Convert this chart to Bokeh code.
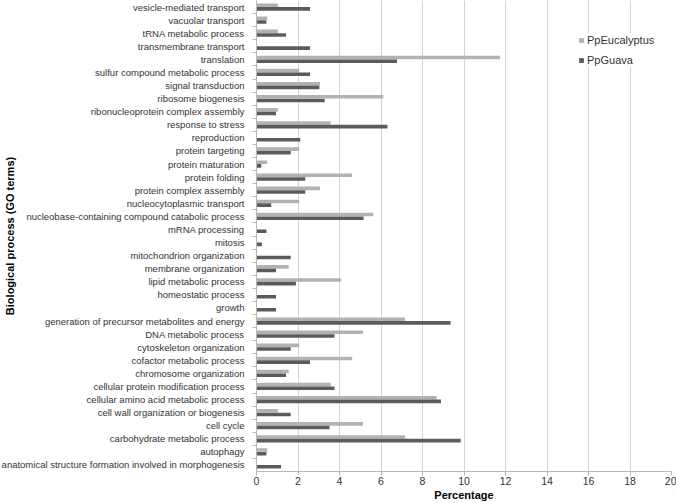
from bokeh.plotting import figure
from bokeh.models import (ColumnDataSource, FactorRange, Range1d, CategoricalAxis,
                          FixedTicker, Legend, LegendItem)
from bokeh.transform import dodge
from bokeh.embed import file_html
from bokeh.resources import INLINE

categories = [
    "anatomical structure formation involved in morphogenesis",
    "autophagy",
    "carbohydrate metabolic process",
    "cell cycle",
    "cell wall organization or biogenesis",
    "cellular amino acid metabolic process",
    "cellular protein modification process",
    "chromosome organization",
    "cofactor metabolic process",
    "cytoskeleton organization",
    "DNA metabolic process",
    "generation of precursor metabolites and energy",
    "growth",
    "homeostatic process",
    "lipid metabolic process",
    "membrane organization",
    "mitochondrion organization",
    "mitosis",
    "mRNA processing",
    "nucleobase-containing compound catabolic process",
    "nucleocytoplasmic transport",
    "protein complex assembly",
    "protein folding",
    "protein maturation",
    "protein targeting",
    "reproduction",
    "response to stress",
    "ribonucleoprotein complex assembly",
    "ribosome biogenesis",
    "signal transduction",
    "sulfur compound metabolic process",
    "translation",
    "transmembrane transport",
    "tRNA metabolic process",
    "vacuolar transport",
    "vesicle-mediated transport",
]

eucalyptus = [0, 0.52, 7.16, 5.13, 1.03, 8.68, 3.58, 1.55, 4.61, 2.06, 5.13, 7.16,
              0, 0, 4.08, 1.55, 0, 0, 0, 5.63, 2.06, 3.06, 4.61, 0.52, 2.06, 0,
              3.58, 1.03, 6.11, 3.06, 2.06, 11.74, 0, 1.03, 0.52, 1.03]
guava = [1.18, 0.48, 9.84, 3.52, 1.65, 8.89, 3.76, 1.42, 2.58, 1.65, 3.76, 9.35,
         0.94, 0.94, 1.90, 0.94, 1.65, 0.26, 0.48, 5.16, 0.71, 2.35, 2.35, 0.23, 1.65, 2.11,
         6.31, 0.94, 3.29, 3.03, 2.58, 6.77, 2.58, 1.42, 0.48, 2.58]

x_ticks = [0, 2, 4, 6, 8, 10, 12, 14, 16, 18, 20]

FONT = "Liberation Sans"
C_EUC = "#b2b2b2"
C_GUA = "#5b5b5b"
AXIS_C = "#b8b8b8"

src = ColumnDataSource(dict(cat=categories, euc=eucalyptus, gua=guava))

p = figure(y_range=FactorRange(factors=categories), x_range=Range1d(0, 20),
           width=676, height=503,
           min_border_left=250, min_border_right=5, min_border_top=0, min_border_bottom=32,
           output_backend="svg", toolbar_location=None, y_axis_location=None,
           x_axis_location="below")
p.outline_line_color = None
p.background_fill_color = "white"
p.border_fill_color = "white"

r1 = p.hbar(y=dodge("cat", 0.14, range=p.y_range), right="euc", left=0, height=0.27,
            source=src, fill_color=C_EUC, line_color=None)
r2 = p.hbar(y=dodge("cat", -0.14, range=p.y_range), right="gua", left=0, height=0.27,
            source=src, fill_color=C_GUA, line_color=None)

# x axis
xa = p.xaxis[0]
xa.ticker = FixedTicker(ticks=x_ticks)
xa.axis_line_color = AXIS_C
xa.major_tick_line_color = AXIS_C
xa.major_tick_out = 4
xa.major_tick_in = 0
xa.minor_tick_line_color = None
xa.major_label_text_font = FONT
xa.major_label_text_font_size = "10.5px"
xa.major_label_text_color = "#333333"
xa.major_label_standoff = 1
xa.axis_label = "Percentage"
xa.axis_label_text_font = FONT
xa.axis_label_text_font_size = "11px"
xa.axis_label_text_font_style = "bold"
xa.axis_label_text_color = "#000000"
xa.axis_label_standoff = 1

p.xgrid.grid_line_color = "#d4d4d4"
p.xgrid.ticker = FixedTicker(ticks=x_ticks)
p.ygrid.grid_line_color = None

# tick axis at category boundaries (next to frame): a factor range whose
# factor centres fall on the boundaries of the main category range
bounds = ["b%d" % k for k in range(len(categories) + 1)]
p.extra_y_ranges = {"bounds": FactorRange(factors=bounds, range_padding=-0.5,
                                          range_padding_units="absolute")}
ta = CategoricalAxis(y_range_name="bounds")
ta.axis_line_color = AXIS_C
ta.major_tick_line_color = AXIS_C
ta.major_tick_out = 4
ta.major_tick_in = 0
ta.minor_tick_line_color = None
ta.major_label_standoff = 0
ta.major_label_text_font_size = "1px"
ta.major_label_text_alpha = 0
p.add_layout(ta, "left")

ca = CategoricalAxis()
ca.axis_line_color = None
ca.major_tick_line_color = None
ca.minor_tick_line_color = None
ca.major_label_text_font = FONT
ca.major_label_text_font_size = "9.5px"
ca.major_label_text_color = "#333333"
ca.major_label_standoff = 2
ca.axis_label = "Biological process (GO terms)"
ca.axis_label_text_font = FONT
ca.axis_label_text_font_size = "11px"
ca.axis_label_text_font_style = "bold"
ca.axis_label_text_color = "#000000"
ca.axis_label_standoff = -17
p.add_layout(ca, "left")

legend = Legend(items=[LegendItem(label="PpEucalyptus", renderers=[r1]),
                       LegendItem(label="PpGuava", renderers=[r2])],
                location=(322, 404), orientation="vertical")
legend.label_text_font = FONT
legend.label_text_font_size = "11px"
legend.label_text_color = "#333333"
legend.glyph_width = 6
legend.glyph_height = 6
legend.label_height = 14
legend.label_standoff = 3
legend.spacing = 6
legend.padding = 2
legend.margin = 0
legend.border_line_color = None
legend.background_fill_color = "white"
legend.background_fill_alpha = 1.0
p.add_layout(legend, "center")

open("out.html", "w").write(file_html(p, INLINE))
